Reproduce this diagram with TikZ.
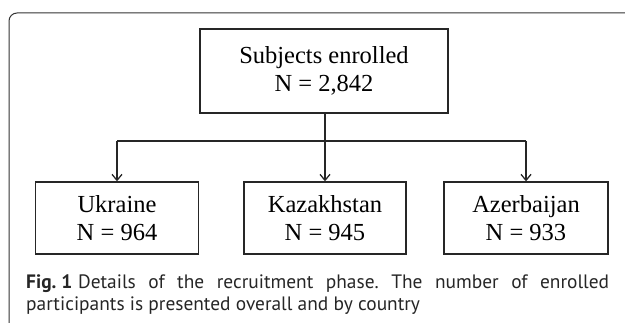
\documentclass[tikz,border=0pt]{standalone}
\usepackage{fontspec}
\setmainfont{Liberation Serif}
\newfontfamily\capfont{PT Sans}
\usetikzlibrary{arrows.meta}
\frenchspacing
\begin{document}
\begin{tikzpicture}[x=1pt,y=-1pt,
  boxstyle/.style={draw=black!85, line width=1.3pt, inner sep=0pt, align=center,
    font=\fontsize{24.5}{28.5}\selectfont},
  conn/.style={draw=black!85, line width=1.3pt},
  arr/.style={conn, -{Straight Barb[length=6pt,width=10pt,line width=1.3pt]}},
  framestyle/.style={draw=black!80, line width=1pt, rounded corners=8pt}]
\useasboundingbox (0,0) rectangle (625,323);
\draw[framestyle] (9,330) -- (9,13) -- (640,13);
\node[boxstyle, minimum width=248pt, minimum height=84pt] (top) at (324,71) {Subjects enrolled\\N = 2,842};
\node[boxstyle, minimum width=163pt, minimum height=72pt] (uk) at (117,218) {Ukraine\\N = 964};
\node[boxstyle, minimum width=162pt, minimum height=72pt] (kz) at (325,218) {Kazakhstan\\N = 945};
\node[boxstyle, minimum width=164pt, minimum height=72pt] (az) at (526,218) {Azerbaijan\\N = 933};
\coordinate (j) at (325,141);
\coordinate (jl) at (uk.north |- j);
\coordinate (jr) at (az.north |- j);
\draw[conn] (top.south -| j) -- (j);
\draw[conn] (jl) -- (jr);
\draw[arr] (jl) -- (uk.north);
\draw[arr] (j) -- (kz.north);
\draw[arr] (jr) -- (az.north);
\node[anchor=base west, inner sep=0pt, text width=583pt, align=justify,
  font=\capfont\fontsize{19.4}{21.5}\selectfont\frenchspacing, text=black!85] (cap) at (26,289)
  {\textbf{Fig.\hspace{0.25em}1}\hspace{0.3em}Details of the recruitment phase. The number of enrolled\linebreak participants is presented overall and by country};
\end{tikzpicture}
\end{document}
